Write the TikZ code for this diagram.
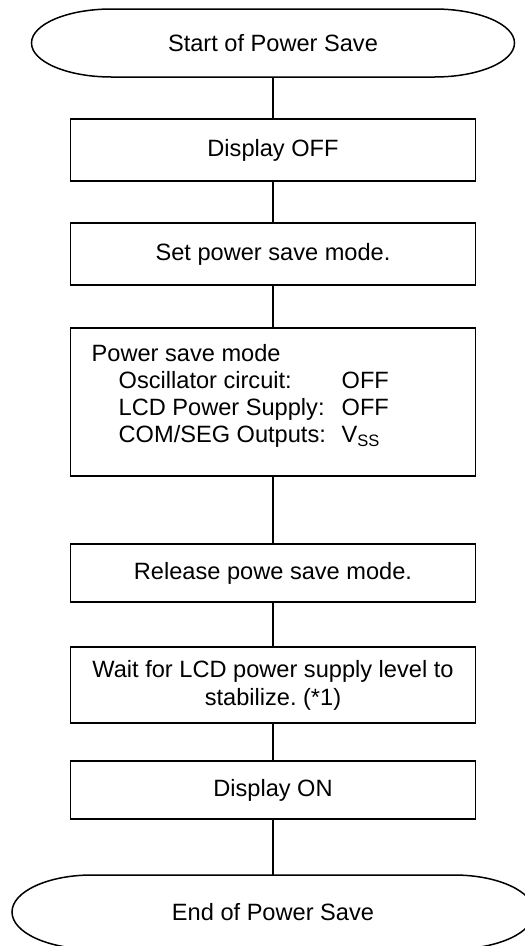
\documentclass[tikz,border=0pt]{standalone}
\usepackage{fontspec}
\setmainfont{Liberation Sans}
\usetikzlibrary{positioning}
\frenchspacing
\tikzset{
    process/.style={
        rectangle,
        draw=black,
        line width=1.5pt,
        outer sep=0pt,
        minimum width=405pt,
        align=center,
        font=\fontsize{23.6pt}{28pt}\selectfont
    },
    terminal/.style={
        rectangle,
        outer sep=0pt,
        font=\fontsize{23.6pt}{28pt}\selectfont
    },
    flowline/.style={
        line width=1.5pt
    }
}
\begin{document}
\begin{tikzpicture}[x=1pt, y=-1pt]
\useasboundingbox (0,0) rectangle (525,946);

% Start of Power Save
\node[terminal, minimum width=483pt, minimum height=68pt] (start) at (273,43) {Start of Power Save};

% Steps
\node[process, minimum height=62pt, below=42pt of start] (disp-off) {Display OFF};
\node[process, minimum height=62pt, below=42pt of disp-off] (set-psm) {Set power save mode.};
\node[process, minimum height=148pt, below=43pt of set-psm] (psm) {};
\node[anchor=north west, align=left, inner sep=0pt, font=\fontsize{23.6pt}{27pt}\selectfont] (psm-text) at ([shift={(21pt,-16pt)}]psm.north west) {
    Power save mode\\
    \hspace*{27pt}\makebox[223pt][l]{Oscillator circuit:}OFF\\
    \hspace*{27pt}\makebox[223pt][l]{LCD Power Supply:}OFF\\
    \hspace*{27pt}\makebox[223pt][l]{COM/SEG Outputs:}V\textsubscript{SS}
};
\node[process, minimum height=58pt, below=68pt of psm] (release) {Release powe save mode.};
\node[process, minimum height=76pt, below=45pt of release] (wait) {Wait for LCD power supply level to\\ stabilize. (*1)};
\node[process, minimum height=58pt, below=38pt of wait] (disp-on) {Display ON};

% End of Power Save
\node[terminal, minimum width=522pt, minimum height=74pt, below=56pt of disp-on] (end) {End of Power Save};

% terminal outlines
\foreach \t/\ry in {start/34pt, end/37pt} {
    \draw[flowline] ([xshift=80pt]\t.north west) -- ([xshift=-80pt]\t.north east)
        arc[start angle=90, end angle=-90, x radius=80pt, y radius=\ry]
        -- ([xshift=80pt]\t.south west)
        arc[start angle=270, end angle=90, x radius=80pt, y radius=\ry] -- cycle;
}

% connectors
\foreach \a/\b in {start/disp-off, disp-off/set-psm, set-psm/psm, psm/release, release/wait, wait/disp-on, disp-on/end} {
    \draw[flowline] (\a.south) -- (\b.north);
}
\end{tikzpicture}
\end{document}
